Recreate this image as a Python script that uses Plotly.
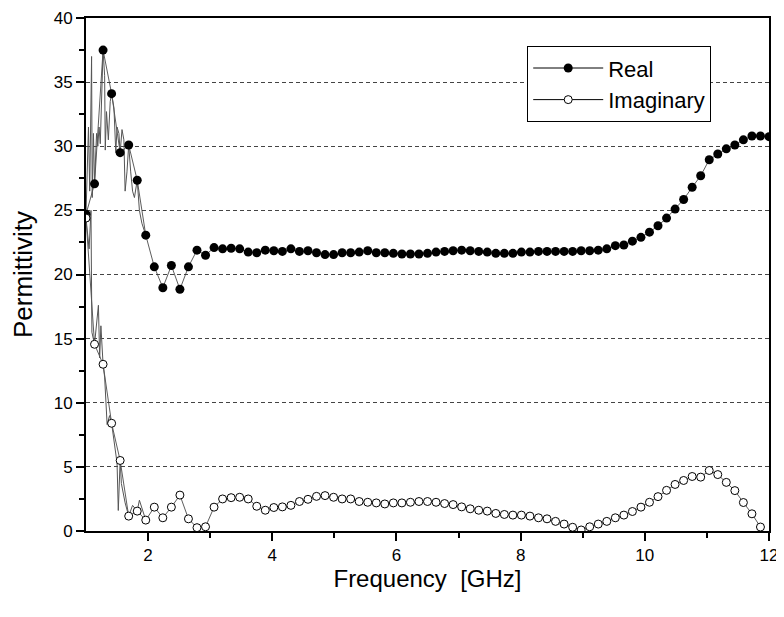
import plotly.graph_objects as go

# Frequency grid of the marked points (GHz)
freq = [1.0, 1.1375, 1.275, 1.4125, 1.55, 1.6875, 1.825, 1.9625, 2.1, 2.2375,
        2.375, 2.5125, 2.65, 2.7875, 2.925, 3.0625, 3.2, 3.3375, 3.475, 3.6125,
        3.75, 3.8875, 4.025, 4.1625, 4.3, 4.4375, 4.575, 4.7125, 4.85, 4.9875,
        5.125, 5.2625, 5.4, 5.5375, 5.675, 5.8125, 5.95, 6.0875, 6.225, 6.3625,
        6.5, 6.6375, 6.775, 6.9125, 7.05, 7.1875, 7.325, 7.4625, 7.6, 7.7375,
        7.875, 8.0125, 8.15, 8.2875, 8.425, 8.5625, 8.7, 8.8375, 8.975, 9.1125,
        9.25, 9.3875, 9.525, 9.6625, 9.8, 9.9375, 10.075, 10.2125, 10.35, 10.4875,
        10.625, 10.7625, 10.9, 11.0375, 11.175, 11.3125, 11.45, 11.5875, 11.725, 11.8625,
        12.0]

real_vals = [24.7, 27.07, 37.5, 34.1, 29.5, 30.1, 27.35, 23.07, 20.6, 18.97,
             20.7, 18.85, 20.6, 21.9, 21.5, 22.1, 22.0, 22.05, 22.0, 21.75,
             21.7, 21.9, 21.85, 21.8, 22.0, 21.8, 21.85, 21.7, 21.55, 21.55,
             21.7, 21.7, 21.75, 21.85, 21.7, 21.7, 21.65, 21.6, 21.6, 21.6,
             21.65, 21.75, 21.8, 21.85, 21.9, 21.85, 21.8, 21.75, 21.65, 21.65,
             21.65, 21.75, 21.75, 21.8, 21.8, 21.8, 21.8, 21.8, 21.85, 21.85,
             21.9, 22.0, 22.25, 22.3, 22.6, 22.9, 23.3, 23.8, 24.4, 25.1,
             25.85, 26.8, 27.7, 28.95, 29.4, 29.8, 30.1, 30.5, 30.8, 30.8,
             30.75]

imag_vals = [24.4, 14.56, 13.0, 8.4, 5.5, 1.16, 1.55, 0.85, 1.86, 1.03,
             1.86, 2.8, 0.95, 0.26, 0.33, 1.86, 2.5, 2.6, 2.63, 2.5,
             1.93, 1.62, 1.83, 1.88, 2.0, 2.3, 2.47, 2.7, 2.76, 2.63,
             2.5, 2.5, 2.3, 2.24, 2.19, 2.11, 2.19, 2.19, 2.24, 2.3,
             2.3, 2.24, 2.14, 2.06, 1.88, 1.73, 1.62, 1.55, 1.37, 1.29,
             1.24, 1.24, 1.16, 1.03, 0.95, 0.75, 0.54, 0.29, 0.08, 0.33,
             0.54, 0.75, 1.03, 1.24, 1.52, 1.86, 2.24, 2.68, 3.17, 3.63,
             3.94, 4.25, 4.2, 4.72, 4.4, 3.79, 3.15, 2.22, 1.34, 0.31,
             None]

raw_real_x = [1.0, 1.02, 1.04, 1.06, 1.08, 1.09, 1.10, 1.12, 1.1375, 1.17,
              1.19, 1.21, 1.23, 1.25, 1.275, 1.30, 1.31, 1.33, 1.36, 1.39,
              1.4125, 1.45, 1.48, 1.50, 1.53, 1.55, 1.58, 1.61, 1.63, 1.66,
              1.6875, 1.72, 1.75, 1.78, 1.825, 1.86, 1.90, 1.9625]
raw_real_y = [24.7, 28.0, 31.5, 26.5, 35.0, 37.0, 26.0, 31.0, 27.07, 31.0,
              30.0, 31.5, 30.2, 33.0, 37.5, 35.5, 29.7, 32.7, 30.5, 33.5,
              34.1, 33.0, 29.5, 31.5, 31.0, 29.5, 31.3, 30.5, 26.5, 28.0,
              30.1, 28.0, 26.5, 26.0, 27.35, 25.0, 24.0, 23.07]

raw_imag_x = [1.0, 1.05, 1.08, 1.095, 1.1375, 1.16, 1.20, 1.22, 1.24, 1.275,
              1.30, 1.34, 1.38, 1.4125, 1.45, 1.50, 1.52, 1.55, 1.57, 1.60,
              1.63, 1.6875, 1.75, 1.825, 1.86, 1.9625]
raw_imag_y = [24.4, 22.0, 25.0, 15.5, 14.56, 15.5, 17.6, 13.5, 16.0, 13.0,
              12.0, 8.3, 9.0, 8.4, 7.0, 5.3, 1.6, 5.5, 3.7, 3.0,
              2.2, 1.16, 2.0, 1.55, 2.4, 0.85]

x_ticks = [2, 4, 6, 8, 10, 12]
y_ticks = [0, 5, 10, 15, 20, 25, 30, 35, 40]

fig = go.Figure()

line_style = dict(color="#333", width=0.8)

# line through markers (all points)
fig.add_trace(go.Scatter(x=freq, y=real_vals, mode="lines", line=line_style,
                         showlegend=False, hoverinfo="skip"))
fig.add_trace(go.Scatter(x=freq, y=imag_vals, mode="lines", line=line_style,
                         showlegend=False, hoverinfo="skip"))
# noisy raw traces at low frequency
fig.add_trace(go.Scatter(x=raw_real_x, y=raw_real_y, mode="lines",
                         line=dict(color="#555", width=1),
                         showlegend=False, hoverinfo="skip"))
fig.add_trace(go.Scatter(x=raw_imag_x, y=raw_imag_y, mode="lines",
                         line=dict(color="#555", width=1),
                         showlegend=False, hoverinfo="skip"))

# markers
fig.add_trace(go.Scatter(x=freq, y=real_vals, mode="markers",
                         marker=dict(symbol="circle", size=9, color="black",
                                     line=dict(color="black", width=0)),
                         showlegend=False))
fig.add_trace(go.Scatter(x=freq, y=imag_vals, mode="markers",
                         marker=dict(symbol="circle", size=8, color="white",
                                     line=dict(color="black", width=1)),
                         showlegend=False))

# legend entries
legend_line = dict(color="black", width=1)
fig.add_trace(go.Scatter(x=[None], y=[None], mode="lines+markers", name="Real",
                         line=legend_line,
                         marker=dict(symbol="circle", size=9, color="black")))
fig.add_trace(go.Scatter(x=[None], y=[None], mode="lines+markers", name="Imaginary",
                         line=legend_line,
                         marker=dict(symbol="circle", size=8, color="white",
                                     line=dict(color="black", width=1))))

font_family = "Liberation Sans, Arial, sans-serif"

fig.update_layout(
    width=776, height=609,
    margin=dict(l=78, r=15, t=10, b=86, autoexpand=False),
    paper_bgcolor="white", plot_bgcolor="white",
    font=dict(family=font_family, color="black", size=17),
    showlegend=True,
    legend=dict(x=0.646, y=0.945, xanchor="left", yanchor="top",
                bordercolor="black", borderwidth=1, bgcolor="white",
                font=dict(size=22, family=font_family, color="black"),
                tracegroupgap=0, itemwidth=70),
)

fig.update_xaxes(
    range=[1, 12], tickvals=x_ticks, ticktext=[str(v) for v in x_ticks],
    ticks="outside", ticklen=8, tickwidth=2, tickcolor="black",
    minor=dict(tickvals=[3, 5, 7, 9, 11], ticks="outside", ticklen=5,
               tickwidth=2, tickcolor="black", showgrid=False),
    showline=True, linecolor="black", linewidth=2, mirror=True,
    showgrid=False, zeroline=False, automargin=False,
    ticklabeloverflow="allow",
    tickfont=dict(size=17),
    title=dict(text="Frequency  [GHz]", font=dict(size=24), standoff=0),
)

fig.update_yaxes(
    range=[0, 40], tickvals=y_ticks, ticktext=[str(v) for v in y_ticks],
    ticks="outside", ticklen=8, tickwidth=2, tickcolor="black",
    minor=dict(tickvals=[2.5, 7.5, 12.5, 17.5, 22.5, 27.5, 32.5, 37.5],
               ticks="outside", ticklen=5, tickwidth=2, tickcolor="black",
               showgrid=False),
    showline=True, linecolor="black", linewidth=2, mirror=True,
    showgrid=True, gridcolor="#444", gridwidth=1, griddash="4px,3px",
    zeroline=False, automargin=False,
    ticklabeloverflow="allow",
    tickfont=dict(size=17),
    title=dict(text="Permittivity", font=dict(size=26), standoff=19),
)

fig.write_html("out.html")
